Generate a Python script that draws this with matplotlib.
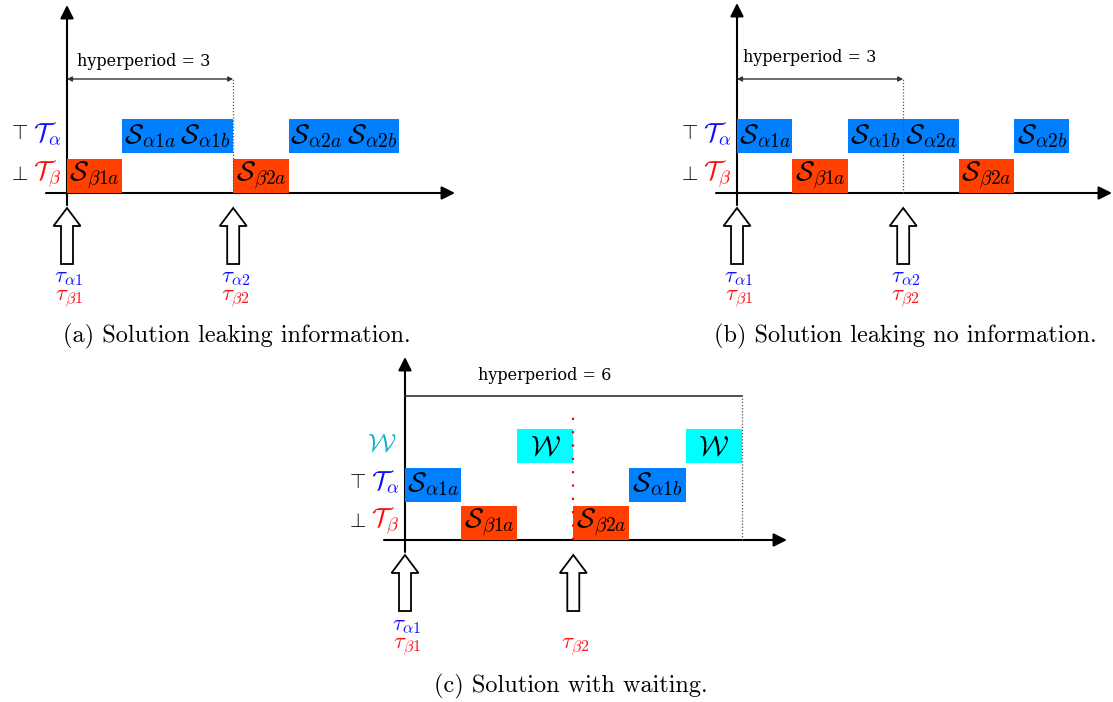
import matplotlib
matplotlib.use("Agg")
import matplotlib.pyplot as plt
from matplotlib.patches import FancyArrow

plt.rcParams['mathtext.fontset'] = 'cm'

W, H = 1113, 702

# colours
C_ALPHA = '#0080ff'
C_BETA = '#ff4000'
C_WAIT = '#00ffff'
TXT_ALPHA = '#1010ff'
TXT_BETA = '#ff1010'
TXT_WAIT = '#14b4c8'

# row index per task kind
ROW = {'beta': 0, 'alpha': 1, 'wait': 2}
BOX_COL = {'beta': C_BETA, 'alpha': C_ALPHA, 'wait': C_WAIT}

# (a) solution leaking information
slot_a = [0, 1, 2, 3, 4, 5]
task_a = ['beta', 'alpha', 'alpha', 'beta', 'alpha', 'alpha']
name_a = [r'\mathcal{S}_{\beta 1a}', r'\mathcal{S}_{\alpha 1a}', r'\mathcal{S}_{\alpha 1b}',
          r'\mathcal{S}_{\beta 2a}', r'\mathcal{S}_{\alpha 2a}', r'\mathcal{S}_{\alpha 2b}']
rel_a = [0, 3]
rel_lab_a = [(r'\tau_{\alpha 1}', r'\tau_{\beta 1}'),
             (r'\tau_{\alpha 2}', r'\tau_{\beta 2}')]
hp_a = 3

# (b) solution leaking no information
slot_b = [0, 1, 2, 3, 4, 5]
task_b = ['alpha', 'beta', 'alpha', 'alpha', 'beta', 'alpha']
name_b = [r'\mathcal{S}_{\alpha 1a}', r'\mathcal{S}_{\beta 1a}', r'\mathcal{S}_{\alpha 1b}',
          r'\mathcal{S}_{\alpha 2a}', r'\mathcal{S}_{\beta 2a}', r'\mathcal{S}_{\alpha 2b}']
rel_b = [0, 3]
rel_lab_b = rel_lab_a
hp_b = 3

# (c) solution with waiting
slot_c = [0, 1, 2, 3, 4, 5]
task_c = ['alpha', 'beta', 'wait', 'beta', 'alpha', 'wait']
name_c = [r'\mathcal{S}_{\alpha 1a}', r'\mathcal{S}_{\beta 1a}', r'\mathcal{W}',
          r'\mathcal{S}_{\beta 2a}', r'\mathcal{S}_{\alpha 1b}', r'\mathcal{W}']
rel_c = [0, 3]
rel_lab_c = [(r'\tau_{\alpha 1}', r'\tau_{\beta 1}'),
             (None, r'\tau_{\beta 2}')]
hp_c = 6

fig = plt.figure(figsize=(W / 100, H / 100), dpi=100)


def panel(x0, y0, slot, row):
    # full-figure axes: data x in slots, y in rows, origin at (x0, y0) pixels from top-left
    ax = fig.add_axes([0, 0, 1, 1])
    ax.set_xlim(-x0 / slot, (W - x0) / slot)
    ax.set_ylim(-(H - y0) / row, y0 / row)
    ax.axis('off')
    ax.patch.set_alpha(0)
    return ax


def draw(ax, slot, row, slots, tasks, names, rels, rel_labs, hp, x_end, y_top,
         hp_y, hp_txt_y, hp_txt_x, hp_arrows, wait_row, caption, cap_xy):
    px = lambda p: p / slot
    py = lambda p: p / row
    bh = py(34)
    ax.bar(slots, [bh] * len(slots), bottom=[ROW[t] for t in tasks], width=1, align='edge',
           color=[BOX_COL[t] for t in tasks], zorder=2)
    for s, t, n in zip(slots, tasks, names):
        ax.text(s + 0.5, ROW[t] + bh / 2, '$' + n + '$', ha='center', va='center',
                fontsize=20, zorder=3)

    # axes
    ax.annotate('', xy=(x_end, 0), xytext=(px(-21), 0),
                arrowprops=dict(arrowstyle='-|>', color='black', lw=1.5,
                                mutation_scale=20, shrinkA=0, shrinkB=0), zorder=1)
    ax.annotate('', xy=(0, y_top), xytext=(0, py(-12)),
                arrowprops=dict(arrowstyle='-|>', color='black', lw=1.5,
                                mutation_scale=20, shrinkA=0, shrinkB=0), zorder=1)

    # hyperperiod
    if hp_arrows:
        ax.annotate('', xy=(hp, hp_y), xytext=(0, hp_y),
                    arrowprops=dict(arrowstyle='<|-|>', color='#333333', lw=1.0,
                                    mutation_scale=7, shrinkA=0, shrinkB=0))
        ax.text(px(hp_txt_x), hp_txt_y, 'hyperperiod = %d' % hp, ha='left', va='center',
                family='DejaVu Serif', fontsize=11.5)
    else:
        ax.plot([0, hp], [hp_y, hp_y], color='#333333', lw=1.2)
        ax.text(hp_txt_x, hp_txt_y, 'hyperperiod = %d' % hp, ha='center', va='center',
                family='DejaVu Serif', fontsize=11.5)
    ax.plot([hp, hp], [0, hp_y], color='#555555', lw=0.9, ls=(0, (1, 1.5)), zorder=4)

    # row labels
    ax.text(px(-49), 1 + bh / 2 + py(3), r'$\top$', ha='center', va='center', fontsize=15)
    ax.text(px(-20), 1 + bh / 2 + py(3), r'$\mathcal{T}_{\alpha}$', ha='center', va='center',
            fontsize=19, color=TXT_ALPHA)
    ax.text(px(-49), bh / 2 + py(2), r'$\bot$', ha='center', va='center', fontsize=15)
    ax.text(px(-20), bh / 2 + py(2), r'$\mathcal{T}_{\beta}$', ha='center', va='center',
            fontsize=19, color=TXT_BETA)
    if wait_row:
        ax.text(px(-23), 2 + bh / 2 + py(3), r'$\mathcal{W}$', ha='center', va='center',
                fontsize=19, color=TXT_WAIT)

    # release arrows
    for r, (la, lb) in zip(rels, rel_labs):
        ax.add_patch(FancyArrow(r, py(-71), 0, py(56), width=px(12), head_width=px(27),
                                head_length=py(18), length_includes_head=True,
                                fc='white', ec='black', lw=1.3))
        if la:
            ax.text(r + px(2), py(-84), '$' + la + '$', ha='center', va='center',
                    fontsize=16.5, color=TXT_ALPHA)
        ax.text(r + px(2), py(-106), '$' + lb + '$', ha='center', va='center',
                fontsize=16.5, color=TXT_BETA)

    ax.text(px(cap_xy[0]), py(cap_xy[1]), caption, ha='center', va='center',
            family='cmr10', fontsize=17.5)


# panel (a)
sa, ra = 55.4, 39.5
ax_a = panel(67, 193, sa, ra)
draw(ax_a, sa, ra, slot_a, task_a, name_a, rel_a, rel_lab_a, hp_a,
     x_end=(455 - 67) / sa, y_top=188 / ra, hp_y=114 / ra, hp_txt_y=131 / ra,
     hp_txt_x=10, hp_arrows=True, wait_row=False,
     caption='(a) Solution leaking information.', cap_xy=(237 - 67, 193 - 336))

# panel (b)
sb, rb = 55.4, 39.5
ax_b = panel(737, 193, sb, rb)
draw(ax_b, sb, rb, slot_b, task_b, name_b, rel_b, rel_lab_b, hp_b,
     x_end=(1112 - 737) / sb, y_top=190 / rb, hp_y=114 / rb, hp_txt_y=135 / rb,
     hp_txt_x=6, hp_arrows=True, wait_row=False,
     caption='(b) Solution leaking no information.', cap_xy=(905 - 737, 193 - 336))

# panel (c)
sc, rc = 56.1, 38.5
ax_c = panel(405, 540, sc, rc)
draw(ax_c, sc, rc, slot_c, task_c, name_c, rel_c, rel_lab_c, hp_c,
     x_end=(787 - 405) / sc, y_top=183 / rc, hp_y=144 / rc, hp_txt_y=164 / rc,
     hp_txt_x=(545 - 405) / sc, hp_arrows=False, wait_row=True,
     caption='(c) Solution with waiting.', cap_xy=(571 - 405, 540 - 686))

# red dotted separator at second release in (c)
ax_c.plot([rel_c[1], rel_c[1]], [0, 128 / rc], color='red', lw=1.6, ls=(0, (1, 5)), zorder=4)

fig.savefig('out.png', dpi=100)
